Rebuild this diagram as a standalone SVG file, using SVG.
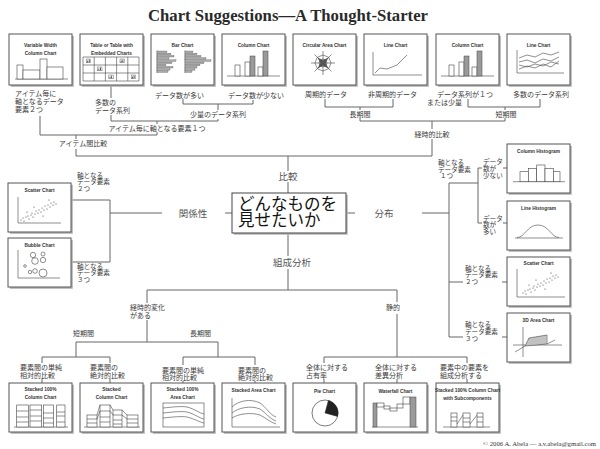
<svg xmlns="http://www.w3.org/2000/svg" xmlns:xlink="http://www.w3.org/1999/xlink" width="600" height="449" viewBox="0 0 600 449">
<defs>
<style>
.sh{fill:#b4b4b4}
.bx{fill:#fff;stroke:#555;stroke-width:1}
.tt{font-family:"Liberation Sans Narrow","Liberation Sans",Arial,sans-serif;font-size:4.8px;font-weight:bold;fill:#333;text-anchor:middle}
.jp{font-family:"Noto Sans CJK JP",sans-serif;font-size:7px;fill:#3a3a3a}
.js{font-family:"Noto Sans CJK JP",sans-serif;font-size:6.6px;fill:#3a3a3a}
.jm{font-family:"Noto Sans CJK JP",sans-serif;font-size:9.5px;fill:#555}
.mid{text-anchor:middle}
.cn{stroke:#666;stroke-width:1;fill:none}
.ic{stroke:#444;stroke-width:0.6;fill:none}
.icw{stroke:#444;stroke-width:0.6;fill:#fff}
.icg{stroke:#444;stroke-width:0.5;fill:#9a9a9a}
.bar{stroke:#555;stroke-width:0.3;fill:#aaa}
.dot{fill:#444}
</style>
<g id="fT"><rect class="sh" x="1.8" y="1.8" width="63" height="51"/><rect class="bx" x="0" y="0" width="63" height="51"/></g>
<g id="fM"><rect class="sh" x="1.8" y="1.8" width="63" height="49"/><rect class="bx" x="0" y="0" width="63" height="49"/></g>
<g id="mini"><rect x="-2.2" y="-2" width="4.4" height="3.8" fill="#fff" stroke="#444" stroke-width="0.4"/><rect x="-1.4" y="-0.4" width="0.9" height="1.8" fill="#444"/><rect x="0.2" y="-1.4" width="0.9" height="2.8" fill="#444"/></g>
<g id="colchart">
<path class="ic" d="M5,42 H58"/>
<rect class="icw" x="13" y="31" width="5" height="11"/>
<rect class="icw" x="23" y="28" width="5" height="14"/>
<rect class="icg" x="28" y="22" width="5" height="20"/>
<rect class="icw" x="36" y="33" width="5" height="9"/>
<rect class="icg" x="41" y="17" width="5" height="25"/>
</g>
<g id="scat">
<circle class="dot" cx="13" cy="37" r="0.6"/><circle class="dot" cx="15" cy="35" r="0.6"/><circle class="dot" cx="16" cy="38" r="0.6"/><circle class="dot" cx="18" cy="34" r="0.6"/><circle class="dot" cx="20" cy="33" r="0.6"/><circle class="dot" cx="21" cy="36" r="0.6"/><circle class="dot" cx="23" cy="32" r="0.6"/><circle class="dot" cx="24" cy="30" r="0.6"/><circle class="dot" cx="25" cy="34" r="0.6"/><circle class="dot" cx="27" cy="31" r="0.6"/><circle class="dot" cx="28" cy="28" r="0.6"/><circle class="dot" cx="30" cy="30" r="0.6"/><circle class="dot" cx="31" cy="27" r="0.6"/><circle class="dot" cx="33" cy="29" r="0.6"/><circle class="dot" cx="34" cy="25" r="0.6"/><circle class="dot" cx="36" cy="27" r="0.6"/><circle class="dot" cx="37" cy="23" r="0.6"/><circle class="dot" cx="39" cy="26" r="0.6"/><circle class="dot" cx="40" cy="22" r="0.6"/><circle class="dot" cx="42" cy="24" r="0.6"/><circle class="dot" cx="43" cy="20" r="0.6"/><circle class="dot" cx="45" cy="22" r="0.6"/><circle class="dot" cx="46" cy="19" r="0.6"/><circle class="dot" cx="48" cy="21" r="0.6"/><circle class="dot" cx="26" cy="24" r="0.6"/><circle class="dot" cx="35" cy="33" r="0.6"/><circle class="dot" cx="19" cy="29" r="0.6"/><circle class="dot" cx="41" cy="17" r="0.6"/>
</g>
</defs>
<rect x="0" y="0" width="600" height="449" fill="#fff"/>
<text x="288" y="21" font-family="Liberation Serif,serif" font-weight="bold" font-size="17.5" fill="#2a2a2a" text-anchor="middle" textLength="280" lengthAdjust="spacingAndGlyphs">Chart Suggestions—A Thought-Starter</text>

<g id="connectors" class="cn">
<path d="M40,116 V135 H157 V132 M157,121 V124 M76,135 V139 M76,149 V156 H432"/>
<path d="M111,85 V98 M111,115 V121 H218 V119 M218,110 V104 M183,99 V104 H253 V100"/>
<path d="M288,156 V171 M288,182 V193"/>
<path d="M325,99 V107 H393 V99 M360,107 V110 M360,118 V121 H505 V118 M468,99 V107 H540 V99 M505,107 V110 M432,121 V129 M432,139 V156"/>
<path d="M232,213 H225 M162,213 H110 M72,200 H110 V262 H72"/>
<path d="M346,213 H355 M422,213 H449 M449,183 V337 M449,183 H478 M478,168 V223 M478,168 H482 M478,223 H482 M503,168 H507 M503,223 H507 M449,282 H463 M502,282 H507 M449,337 H463 M502,337 H507"/>
<path d="M288,233 V256 M288,269 V290 M147,290 H397 M147,290 V303 M147,320 V342 M76,342 H218 M76,342 V357 M218,342 V357 M42,357 H110 M42,357 V363 M110,357 V363 M183,357 H255 M183,357 V365 M255,357 V365 M42,379 V383 M110,379 V383 M183,381 V383 M255,381 V383"/>
<path d="M397,290 V302 M397,314 V357 M324,357 H467 M324,357 V363 M467,357 V363 M324,379 V383 M397,379 V383 M467,379 V383"/>
</g>

<g id="n-center">
<rect x="233.8" y="194.8" width="114" height="40" fill="#bbb"/>
<rect x="232" y="193" width="114" height="40" fill="#fff" stroke="#444" stroke-width="1"/>
<text x="238" y="209.5" font-family="Noto Sans CJK JP,sans-serif" font-size="16.5" fill="#111">どんなものを</text>
<text x="238" y="225.5" font-family="Noto Sans CJK JP,sans-serif" font-size="16.5" fill="#111">見せたいか</text>
</g>

<g id="n-variable-width" transform="translate(9,34)">
<use xlink:href="#fT"/>
<text class="tt" x="31.5" y="13">Variable Width</text>
<text class="tt" x="31.5" y="20.5">Column Chart</text>
<path class="ic" d="M6,45 H59"/>
<rect class="icw" x="8" y="31" width="6" height="14"/>
<rect class="icw" x="14" y="36" width="17" height="9"/>
<rect class="icw" x="31" y="25" width="7" height="20"/>
<rect class="icw" x="38" y="33" width="16" height="12"/>
</g>

<g id="n-table" transform="translate(80,34)">
<use xlink:href="#fT"/>
<text class="tt" x="31.5" y="13">Table or Table with</text>
<text class="tt" x="31.5" y="20.5">Embedded Charts</text>
<path class="ic" d="M3,23 H59 M3,31 H59 M3,39 H59 M3,47 H59 M3,23 V47 M14.2,23 V47 M25.4,23 V47 M36.6,23 V47 M47.8,23 V47 M59,23 V47"/>
<use xlink:href="#mini" x="8.6" y="27"/>
<use xlink:href="#mini" x="19.8" y="35"/>
<use xlink:href="#mini" x="42.2" y="27"/>
<use xlink:href="#mini" x="31" y="43"/>
<use xlink:href="#mini" x="53.4" y="43"/>
</g>

<g id="n-bar" transform="translate(151,34)">
<use xlink:href="#fT"/>
<text class="tt" x="31.5" y="13">Bar Chart</text>
<path class="ic" d="M6,16.5 V39 M34,16.5 V39"/>
<rect class="bar" x="6" y="17" width="10" height="1.6"/>
<rect class="bar" x="6" y="19.2" width="14" height="1.6"/>
<rect class="bar" x="6" y="21.4" width="17" height="1.6"/>
<rect class="bar" x="6" y="23.6" width="12" height="1.6"/>
<rect class="bar" x="6" y="25.8" width="19" height="1.6"/>
<rect class="bar" x="6" y="28" width="15" height="1.6"/>
<rect class="bar" x="6" y="30.2" width="9" height="1.6"/>
<rect class="bar" x="6" y="32.4" width="16" height="1.6"/>
<rect class="bar" x="6" y="34.6" width="13" height="1.6"/>
<rect class="bar" x="6" y="36.8" width="11" height="1.6"/>
<rect class="bar" x="34" y="17" width="8" height="1.6"/>
<rect class="bar" x="34" y="19.2" width="12" height="1.6"/>
<rect class="bar" x="34" y="21.4" width="16" height="1.6"/>
<rect class="bar" x="34" y="23.6" width="21" height="1.6"/>
<rect class="bar" x="34" y="25.8" width="26" height="1.6"/>
<rect class="bar" x="34" y="28" width="19" height="1.6"/>
<rect class="bar" x="34" y="30.2" width="15" height="1.6"/>
<rect class="bar" x="34" y="32.4" width="12" height="1.6"/>
<rect class="bar" x="34" y="34.6" width="10" height="1.6"/>
<rect class="bar" x="34" y="36.8" width="7" height="1.6"/>
</g>

<g id="n-column1" transform="translate(222,34)">
<use xlink:href="#fT"/>
<text class="tt" x="31.5" y="13">Column Chart</text>
<use xlink:href="#colchart"/>
</g>

<g id="n-circular" transform="translate(293,34)">
<use xlink:href="#fT"/>
<text class="tt" x="31.5" y="13">Circular Area Chart</text>
<path class="ic" d="M18,29 H42 M30,17 V41 M21.5,20.5 L38.5,37.5 M21.5,37.5 L38.5,20.5"/>
<polygon class="ic" points="38,29 35.7,34.7 30,37 24.3,34.7 22,29 24.3,23.3 30,21 35.7,23.3"/>
<polygon class="ic" points="34,29 32.8,31.8 30,33 27.2,31.8 26,29 27.2,26.2 30,25 32.8,26.2"/>
<polygon points="34.9,33.9 30,31.5 25.1,33.9 27.5,29 25.1,24.1 30,26.5 34.9,24.1 32.5,29" fill="#555" stroke="#333" stroke-width="0.4"/>
</g>

<g id="n-line1" transform="translate(364,34)">
<use xlink:href="#fT"/>
<text class="tt" x="31.5" y="13">Line Chart</text>
<path class="ic" d="M9,18 V41 H58"/>
<polyline class="ic" points="11,39 16,34 23,35 28,33 33,31 36,28 43,21"/>
</g>

<g id="n-column2" transform="translate(436,34)">
<use xlink:href="#fT"/>
<text class="tt" x="31.5" y="13">Column Chart</text>
<use xlink:href="#colchart"/>
</g>

<g id="n-line2" transform="translate(507,34)">
<use xlink:href="#fT"/>
<text class="tt" x="31.5" y="13">Line Chart</text>
<path class="ic" d="M10,16 V39 H57"/>
<polyline class="ic" points="12,24 20,21 28,23 36,19 44,21 52,18"/>
<polyline class="ic" points="12,28 20,26 28,29 36,25 44,27 52,23"/>
<polyline class="ic" points="12,31 20,33 28,30 36,32 44,28 52,30"/>
<polyline class="ic" points="12,35 20,32 28,34 36,30 44,33 52,27"/>
</g>

<g id="n-scatter-left" transform="translate(8,183)">
<use xlink:href="#fM"/>
<text class="tt" x="31.5" y="9">Scatter Chart</text>
<path class="ic" d="M10,14 V40 H53"/>
<use xlink:href="#scat"/>
</g>

<g id="n-bubble" transform="translate(8,238)">
<use xlink:href="#fM"/>
<text class="tt" x="31.5" y="9.3">Bubble Chart</text>
<path class="ic" d="M10,12 V40 H52"/>
<circle class="ic" cx="25" cy="17" r="2.7"/>
<circle class="ic" cx="35" cy="16" r="2"/>
<circle class="ic" cx="27" cy="23" r="3.3"/>
<circle class="ic" cx="35" cy="22" r="2.7"/>
<circle class="ic" cx="17" cy="28" r="1.3"/>
<circle class="ic" cx="22" cy="34" r="1.7"/>
<circle class="ic" cx="27" cy="33" r="2.3"/>
<circle class="ic" cx="35" cy="35" r="4"/>
</g>

<g id="n-col-histogram" transform="translate(507,144)">
<use xlink:href="#fM"/>
<text class="tt" x="31.5" y="8.7">Column Histogram</text>
<path class="ic" d="M6,37.7 H58"/>
<rect class="icw" x="13" y="27.7" width="8.3" height="10"/>
<rect class="icw" x="21.3" y="24.3" width="8.4" height="13.4"/>
<rect class="icw" x="29.7" y="21" width="8.3" height="16.7"/>
<rect class="icw" x="38" y="24.3" width="8.3" height="13.4"/>
<rect class="icw" x="46.3" y="27.7" width="6.7" height="10"/>
</g>

<g id="n-line-histogram" transform="translate(507,201)">
<use xlink:href="#fM"/>
<text class="tt" x="31.5" y="8.5">Line Histogram</text>
<path class="ic" d="M8,37 H56"/>
<path class="ic" d="M10,36.5 C18,36.5 20,24 31,24 C42,24 44,36.5 52,36.5"/>
</g>

<g id="n-scatter-right" transform="translate(507,257)">
<use xlink:href="#fM"/>
<text class="tt" x="31.5" y="8.3">Scatter Chart</text>
<path class="ic" d="M10,12 V40 H58"/>
<use xlink:href="#scat" x="3" y="-1"/>
</g>

<g id="n-3d-area" transform="translate(507,313)">
<use xlink:href="#fM"/>
<text class="tt" x="31.5" y="9.3">3D Area Chart</text>
<path class="ic" d="M16,14 V44 M6,32 H55 M8,39 L18,33 M40,31 L48,27"/>
<polygon points="18,33 22,25 40,22 40,31" fill="#ddd" stroke="#444" stroke-width="0.6"/>
<path d="M20,29 V32.6 M22,25 V32.3 M24,24.7 V32 M26,24.3 V31.8 M28,24 V31.6 M30,23.7 V31.4 M32,23.4 V31.3 M34,23 V31.2 M36,22.7 V31.1 M38,22.3 V31" stroke="#555" stroke-width="0.4"/>
</g>

<g id="n-stacked100-column" transform="translate(9,383)">
<use xlink:href="#fM"/>
<text class="tt" x="31.5" y="8.3">Stacked 100%</text>
<text class="tt" x="31.5" y="16">Column Chart</text>
<path class="ic" d="M5,44 H59"/>
<rect class="icw" x="7.7" y="22" width="11.6" height="22"/>
<rect class="icw" x="21" y="22" width="11.7" height="22"/>
<rect class="icw" x="34.3" y="22" width="10" height="22"/>
<rect class="icw" x="47.7" y="22" width="8.3" height="22"/>
<path class="ic" d="M7.7,28 H19.3 M7.7,34 H19.3 M7.7,39 H19.3 M21,27 H32.7 M21,33 H32.7 M21,38 H32.7 M34.3,30 H44.3 M34.3,35 H44.3 M34.3,40 H44.3 M47.7,29 H56 M47.7,33 H56 M47.7,39 H56"/>
</g>

<g id="n-stacked-column" transform="translate(80,383)">
<use xlink:href="#fM"/>
<text class="tt" x="31.5" y="8.3">Stacked</text>
<text class="tt" x="31.5" y="16">Column Chart</text>
<path class="ic" d="M4,44 H60"/>
<rect class="icw" x="7" y="32" width="10" height="12"/>
<rect class="icw" x="20" y="22" width="10" height="22"/>
<rect class="icw" x="33" y="27" width="9" height="17"/>
<rect class="icw" x="47" y="32" width="11" height="12"/>
<path class="ic" d="M7,36 H17 M7,40 H17 M20,28 H30 M20,34 H30 M20,39 H30 M33,32 H42 M33,37 H42 M33,41 H42 M47,36 H58 M47,40 H58 M17,32 L20,22 M30,22 L33,27 M42,27 L47,32 M17,36 L20,28 M30,28 L33,32 M42,32 L47,36"/>
</g>

<g id="n-stacked100-area" transform="translate(151,383)">
<use xlink:href="#fM"/>
<text class="tt" x="31.5" y="8.3">Stacked 100%</text>
<text class="tt" x="31.5" y="16">Area Chart</text>
<rect class="icw" x="12" y="20" width="41" height="24"/>
<path class="ic" d="M12,25 C22,24 30,23 36,24 C44,26 48,30 53,31 M12,30 C22,29 30,28 36,29 C44,31 48,35 53,36 M12,35 C22,34 30,33 36,34 C44,36 48,39 53,40"/>
</g>

<g id="n-stacked-area" transform="translate(222,383)">
<use xlink:href="#fM"/>
<text class="tt" x="31.5" y="8.5">Stacked Area Chart</text>
<path class="ic" d="M10,15 V44 H58"/>
<path class="ic" d="M10,24 C16,18 28,15 38,20 C44,24 48,32 54,34 M10,30 C16,25 28,22 38,26 C44,30 48,36 54,38 M10,35 C16,31 28,29 38,32 C44,35 48,39 54,41"/>
</g>

<g id="n-pie" transform="translate(293,383)">
<use xlink:href="#fM"/>
<text class="tt" x="31.5" y="10">Pie Chart</text>
<circle cx="32" cy="30" r="13" fill="#fff" stroke="#444" stroke-width="0.7"/>
<path d="M32,30 L35.4,17.4 A13,13 0 0,1 44.6,33.4 Z" fill="#222" stroke="#222" stroke-width="0.5"/>
</g>

<g id="n-waterfall" transform="translate(364,383)">
<use xlink:href="#fM"/>
<text class="tt" x="31.5" y="10">Waterfall Chart</text>
<path class="ic" d="M8,44 H54"/>
<rect class="icg" x="9" y="20" width="4" height="24"/>
<rect class="icw" x="13" y="20" width="7" height="4"/>
<rect class="icw" x="20" y="23" width="6" height="3"/>
<rect class="icw" x="26" y="25" width="7" height="3"/>
<rect class="icw" x="33" y="21" width="6" height="4"/>
<rect class="icw" x="39" y="14" width="7" height="7"/>
<rect class="icg" x="46" y="14" width="6" height="30"/>
</g>

<g id="n-stacked-sub" transform="translate(436,383)">
<use xlink:href="#fM"/>
<text class="tt" x="31.5" y="9.4">Stacked 100% Column Chart</text>
<text class="tt" x="31.5" y="17">with Subcomponents</text>
<path class="ic" d="M7,44 H54"/>
<rect class="icw" x="15" y="30" width="6" height="14"/>
<rect class="icw" x="27" y="30" width="7" height="14"/>
<rect class="icw" x="41" y="30" width="6" height="14"/>
<path class="ic" d="M15,34 H21 M15,38 H21 M27,35 H34 M27,39 H34 M41,34 H47 M41,39 H47 M21,41 L27,32 M34,41 L41,32"/>
</g>

<g id="labels">
<text class="jp" x="15" y="95.5">アイテム毎に</text>
<text class="jp" x="15" y="103.5">軸となるデータ</text>
<text class="jp" x="15" y="111.5">要素２つ</text>
<text class="jp" x="95" y="105">多数の</text>
<text class="jp" x="95" y="113">データ系列</text>
<text class="jp" x="155" y="97.5">データ数が多い</text>
<text class="jp" x="228" y="97.5">データ数が少ない</text>
<text class="jp mid" x="218" y="117">少量のデータ系列</text>
<text class="jp mid" x="157" y="130.5">アイテム毎に軸となる要素１つ</text>
<text class="jp mid" x="83" y="146">アイテム間比較</text>
<text class="jp" x="305" y="97">周期的データ</text>
<text class="jp" x="368" y="97">非周期的データ</text>
<text class="jp" x="437" y="97">データ系列が１つ</text>
<text class="jp" x="427" y="104.5">または少量</text>
<text class="jp" x="513" y="97">多数のデータ系列</text>
<text class="jp mid" x="360" y="117">長期間</text>
<text class="jp mid" x="506" y="117">短期間</text>
<text class="jp mid" x="432" y="137">経時的比較</text>
<text class="jm mid" x="288" y="179.5">比較</text>
<text class="jm mid" x="193" y="217">関係性</text>
<text class="jm mid" x="384" y="217">分布</text>
<text class="jm mid" x="292" y="266">組成分析</text>
<text class="js" x="77" y="177.5">軸となる</text>
<text class="js" x="77" y="184">データ要素</text>
<text class="js" x="77" y="190.5">２つ</text>
<text class="js" x="77" y="268.5">軸となる</text>
<text class="js" x="77" y="275">データ要素</text>
<text class="js" x="77" y="282">３つ</text>
<text class="js" x="438" y="165">軸となる</text>
<text class="js" x="438" y="171.5">データ要素</text>
<text class="js" x="440" y="178">１つ</text>
<text class="js" x="483" y="164">データ</text>
<text class="js" x="483" y="171">数が</text>
<text class="js" x="483" y="178">少ない</text>
<text class="js" x="483" y="220.5">データ</text>
<text class="js" x="483" y="227">数が</text>
<text class="js" x="483" y="233.5">多い</text>
<text class="js" x="465" y="270.5">軸となる</text>
<text class="js" x="465" y="277">データ要素</text>
<text class="js" x="465" y="284">２つ</text>
<text class="js" x="465" y="327">軸となる</text>
<text class="js" x="465" y="333.5">データ要素</text>
<text class="js" x="465" y="340.5">３つ</text>
<text class="jp" x="130" y="310">経時的変化</text>
<text class="jp" x="130" y="317.5">がある</text>
<text class="jp" x="73" y="336">短期間</text>
<text class="jp" x="190" y="336">長期間</text>
<text class="jp mid" x="393" y="310" font-size="8">静的</text>
<text class="jp" x="20" y="370">要素間の単純</text>
<text class="jp" x="20" y="377.5">相対的比較</text>
<text class="jp" x="90" y="370">要素間の</text>
<text class="jp" x="90" y="377.5">絶対的比較</text>
<text class="jp" x="162" y="373">要素間の単純</text>
<text class="jp" x="162" y="380">相対的比較</text>
<text class="jp" x="238" y="372.5">要素間の</text>
<text class="jp" x="238" y="380">絶対的比較</text>
<text class="jp" x="306" y="370">全体に対する</text>
<text class="jp" x="306" y="377.5">占有率</text>
<text class="jp" x="375" y="370">全体に対する</text>
<text class="jp" x="375" y="377.5">差異分析</text>
<text class="jp" x="440" y="370">要素中の要素を</text>
<text class="jp" x="440" y="377.5">組成分析する</text>
</g>

<text x="483" y="445.5" font-family="Liberation Serif,serif" font-size="6" fill="#333" textLength="113" lengthAdjust="spacingAndGlyphs">© 2006  A. Abela — a.v.abela@gmail.com</text>
</svg>
